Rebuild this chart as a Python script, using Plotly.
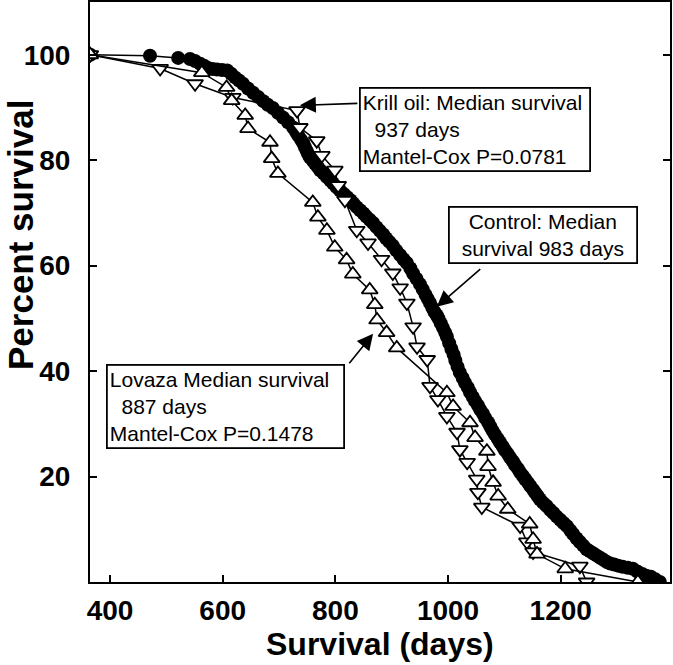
import plotly.graph_objects as go

# ---- data (days, percent survival) ----
control_days = [365, 471, 521, 542, 551, 560, 567, 574, 582, 590, 599, 608, 615, 622, 629, 636, 645, 654, 663,
                672, 680, 689, 698, 707, 716, 725, 730, 734, 739, 743, 746, 749, 752, 755, 760, 764, 769, 773, 779,
                785, 791, 796, 802, 808, 815, 821, 827, 832, 838, 844, 850, 855, 861, 867, 873, 879, 885, 890, 896,
                902, 908, 915, 921, 927, 933, 938, 944, 950, 955, 960, 964, 968, 972, 976, 980, 983, 987, 991, 995,
                998, 1002, 1006, 1010, 1013, 1017, 1021, 1026, 1030, 1035, 1039, 1044, 1048, 1053, 1057, 1062, 1066,
                1071, 1075, 1079, 1083, 1088, 1092, 1097, 1101, 1106, 1110, 1115, 1119, 1124, 1128, 1133, 1137, 1142,
                1146, 1151, 1155, 1159, 1163, 1169, 1175, 1181, 1187, 1193, 1199, 1205, 1211, 1217, 1222, 1228, 1234,
                1240, 1246, 1252, 1258, 1264, 1270, 1276, 1282, 1288, 1295, 1302, 1310, 1319, 1328, 1336, 1345, 1352,
                1360, 1368, 1376]
control_pct = [100, 99.8, 99.4, 99.2, 98.8, 98.3, 97.9, 97.5, 97.3, 97.2, 97.1, 97.0, 96.4, 95.7, 95.1, 94.5,
               93.6, 92.8, 92.0, 91.2, 90.5, 89.9, 89.0, 88.1, 87.2, 86.2, 85.4, 84.7, 83.9, 83.2, 82.5, 81.8, 81.1,
               80.5, 79.9, 79.3, 78.7, 78.1, 77.5, 76.8, 76.2, 75.6, 74.9, 74.3, 73.6, 73.0, 72.4, 71.8, 71.1, 70.5,
               69.9, 69.3, 68.7, 68.1, 67.3, 66.6, 65.9, 65.2, 64.5, 63.8, 62.9, 62.0, 61.2, 60.5, 59.5, 58.5, 57.5,
               56.5, 55.5, 54.5, 53.7, 52.9, 52.0, 51.2, 50.6, 50.0, 49.1, 48.2, 47.3, 46.5, 45.3, 44.2, 43.1, 42.0,
               40.8, 39.7, 38.7, 37.8, 36.9, 36.0, 35.1, 34.3, 33.5, 32.7, 31.9, 31.1, 30.3, 29.5, 28.7, 28.0, 27.2,
               26.5, 25.7, 25.0, 24.3, 23.6, 22.9, 22.2, 21.5, 20.8, 20.1, 19.5, 18.8, 18.2, 17.5, 16.9, 16.3, 15.7,
               15.0, 14.4, 13.7, 13.1, 12.4, 11.8, 11.2, 10.6, 9.8, 9.1, 8.3, 7.6, 6.9, 6.2, 5.8, 5.4, 5.0, 4.6, 4.2,
               3.8, 3.5, 3.3, 3.1, 2.9, 2.7, 2.5, 2.0, 1.5, 1.2, 1.0, 0.5, 0.0]

krill_days = [365, 489, 551, 618, 732, 737, 767, 776, 799, 805, 817, 838, 858, 882, 902, 915, 927, 938, 945, 963, 968,
              982, 998, 1016, 1021, 1034, 1051, 1053, 1060, 1128, 1140, 1151, 1234, 1246]
krill_pct = [100, 97.4, 94.5, 91.9, 89.4, 86.2, 83.7, 80.9, 78.1, 75.2, 72.4, 66.7, 64.3, 61.2, 58.6, 55.8, 52.9,
             48.4, 44.6, 42.2, 37.1, 34.6, 31.4, 28.4, 25.1, 22.7, 19.5, 17.0, 14.2, 10.6, 7.6, 5.7, 3.0, 0.0]

lovaza_days = [365, 563, 607, 616, 640, 645, 684, 687, 698, 760, 769, 785, 799, 820, 831, 861, 870, 874, 891, 909,
               998, 1009, 1039, 1048, 1069, 1071, 1080, 1089, 1106, 1145, 1151, 1158, 1208, 1337]
lovaza_pct = [100, 96.6, 93.8, 91.3, 88.5, 86.0, 83.4, 80.3, 77.5, 72.0, 69.2, 66.7, 63.5, 61.1, 58.4, 55.4, 52.6,
              49.7, 47.3, 44.4, 35.9, 33.3, 30.2, 27.4, 24.8, 21.9, 18.9, 16.3, 13.8, 11.0, 8.1, 5.3, 2.5, 0.0]

x_ticks = [400, 600, 800, 1000, 1200]
y_ticks = [20, 40, 60, 80, 100]

fig = go.Figure()
fig.add_trace(go.Scatter(x=control_days, y=control_pct, mode="lines+markers", name="Control",
                         line=dict(color="black", width=1.5),
                         marker=dict(symbol="circle", size=14, color="black")))
fig.add_trace(go.Scatter(x=krill_days, y=krill_pct, mode="lines+markers", name="Krill oil",
                         line=dict(color="black", width=1.5),
                         marker=dict(symbol="triangle-down", size=14, color="white",
                                     line=dict(color="black", width=1.8))))
fig.add_trace(go.Scatter(x=lovaza_days, y=lovaza_pct, mode="lines+markers", name="Lovaza",
                         line=dict(color="black", width=1.5),
                         marker=dict(symbol="triangle-up", size=14, color="white",
                                     line=dict(color="black", width=1.8))))

tickfont = dict(family="Liberation Sans, Arial", size=28, color="black", weight="bold")

fig.update_xaxes(range=[364.5, 1394], tickvals=x_ticks, ticks="inside", ticklen=7, tickwidth=2,
                 tickcolor="black", showline=True, linecolor="black", linewidth=2, mirror=True,
                 showgrid=False, zeroline=False, tickfont=tickfont, ticklabelstandoff=2, automargin=False)
fig.update_yaxes(range=[0, 110], tickvals=y_ticks, ticks="inside", ticklen=7, tickwidth=2,
                 tickcolor="black", showline=True, linecolor="black", linewidth=2, mirror="ticks",
                 showgrid=False, zeroline=False, tickfont=tickfont, ticklabelstandoff=12, automargin=False)

# axis titles placed as paper annotations
fig.add_annotation(text="<b>Survival (days)</b>", xref="paper", yref="paper", x=0.5, y=(582 - 644) / 580,
                   xanchor="center", yanchor="middle", showarrow=False,
                   font=dict(family="Liberation Sans, Arial", size=32, color="black"))
fig.add_annotation(text="<b>Percent survival</b>", xref="paper", yref="paper", x=(21 - 90) / 580,
                   y=(582 - 235) / 580, xanchor="center", yanchor="middle", showarrow=False, textangle=-90,
                   font=dict(family="Liberation Sans, Arial", size=35, color="black"))

ann_font = dict(family="Liberation Sans, Arial", size=21, color="black")
boxes = [
    ("Krill oil: Median survival<br>\u00a0\u00a0937 days<br>Mantel-Cox P=0.0781", 359, 87, "left", 224),
    ("Control: Median<br>survival 983 days", 448, 206, "center", 182),
    ("Lovaza Median survival<br>\u00a0\u00a0887 days<br>Mantel-Cox P=0.1478", 106, 364, "left", 231),
]
for text, px, py, al, w in boxes:
    fig.add_annotation(text=text, xref="paper", yref="paper", x=(px - 90) / 580, y=(582 - py) / 580,
                       xanchor="left", yanchor="top", showarrow=False, align=al, font=ann_font, width=w,
                       bordercolor="black", borderwidth=1.8, borderpad=2, bgcolor="white")

arrows = [(737, 90.4, 59, -2), (980, 52.2, 45, -39), (867, 47.1, -25, 31)]
for x, y, ax, ay in arrows:
    fig.add_annotation(x=x, y=y, xref="x", yref="y", text="", showarrow=True, ax=ax, ay=ay,
                       arrowhead=2, arrowsize=2, arrowwidth=1.6, arrowcolor="black")

fig.update_layout(width=673, height=665, margin=dict(l=90, r=3, t=2, b=83),
                  plot_bgcolor="white", paper_bgcolor="white", showlegend=False)

fig.write_html("out.html", config={"displayModeBar": False},
               post_script="document.body.style.margin='0';")
